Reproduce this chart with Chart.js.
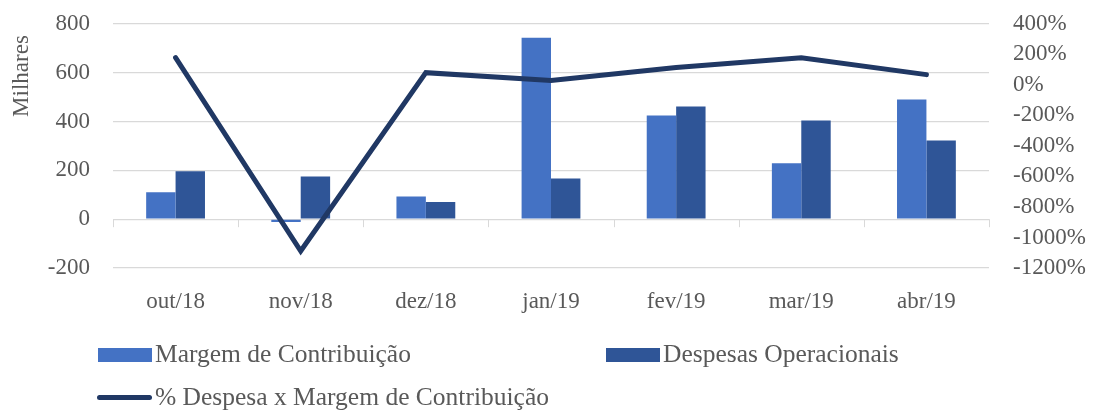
<!DOCTYPE html>
<html>
<head>
<meta charset="utf-8">
<script src="https://cdn.jsdelivr.net/npm/chart.js@4"></script>
<style>
  body { margin: 0; background: #fff; }
  #wrap { position: relative; width: 1093px; height: 411px; overflow: hidden; }
  #grafico { position: absolute; left: 0; top: -14px; }
  .leg { position: absolute; font-family: "Liberation Serif", serif; font-size: 25.5px; color: #595959; white-space: nowrap; line-height: 30px; }
  .box { position: absolute; }
</style>
</head>
<body>
<div id="wrap">
  <canvas id="grafico" width="1093" height="425"></canvas>
  <div class="box" style="left:98px;top:348px;width:54px;height:14px;background:#4472C4"></div>
  <div class="leg" style="left:155px;top:339px">Margem de Contribuição</div>
  <div class="box" style="left:606px;top:348px;width:54px;height:14px;background:#2F5597"></div>
  <div class="leg" style="left:663px;top:339px">Despesas Operacionais</div>
  <div class="box" style="left:97px;top:395px;width:55px;height:5px;border-radius:3px;background:#203864"></div>
  <div class="leg" style="left:155px;top:382px">% Despesa x Margem de Contribuição</div>
</div>
<script>
const meses = ['out/18', 'nov/18', 'dez/18', 'jan/19', 'fev/19', 'mar/19', 'abr/19'];
const margem = [110, -12, 93, 743, 424, 229, 490];
const despesas = [196, 175, 70, 167, 461, 404, 322];
const percentual = [178, -1089, 80, 28, 113, 178, 67];

const cinza = '#595959';
const fonte = { family: 'Liberation Serif', size: 23 };

// titulo do eixo e marcas do eixo x no zero
const extras = {
    id: 'extras',
    afterDraw(chart) {
        const c = chart.ctx;
        const x = chart.scales.x;
        const y0 = chart.scales.y.getPixelForValue(0);
        c.save();
        c.strokeStyle = '#D9D9D9';
        c.lineWidth = 1;
        for (let i = 0; i <= meses.length; i++) {
            const px = Math.round(x.left + i * (x.width / meses.length)) + 0.5;
            c.beginPath();
            c.moveTo(px, y0);
            c.lineTo(px, y0 + 8);
            c.stroke();
        }
        c.fillStyle = cinza;
        c.font = '23px "Liberation Serif"';
        c.translate(22, 90);
        c.rotate(-Math.PI / 2);
        c.textAlign = 'center';
        c.textBaseline = 'middle';
        c.fillText('Milhares', 0, 0);
        c.restore();
    }
};

new Chart(document.getElementById('grafico'), {
    type: 'bar',
    data: {
        labels: meses,
        datasets: [
            {
                type: 'line',
                label: '% Despesa x Margem de Contribuição',
                data: percentual,
                yAxisID: 'y1',
                borderColor: '#203864',
                borderWidth: 5,
                pointRadius: 0,
                tension: 0,
                borderCapStyle: 'round',
                order: 0
            },
            {
                label: 'Margem de Contribuição',
                data: margem,
                backgroundColor: '#4472C4',
                yAxisID: 'y',
                barPercentage: 1,
                categoryPercentage: 0.47,
                order: 1
            },
            {
                label: 'Despesas Operacionais',
                data: despesas,
                backgroundColor: '#2F5597',
                yAxisID: 'y',
                barPercentage: 1,
                categoryPercentage: 0.47,
                order: 1
            }
        ]
    },
    options: {
        responsive: false,
        animation: false,
        layout: { padding: { top: -4, left: 0, right: 0, bottom: 0 } },
        plugins: { legend: { display: false }, tooltip: { enabled: false } },
        scales: {
            x: {
                grid: { display: false },
                border: { display: false },
                ticks: { color: cinza, font: fonte, padding: 12, maxRotation: 0 },
                afterFit: s => { s.height = 143; }
            },
            y: {
                position: 'left',
                min: -200,
                max: 800,
                ticks: { stepSize: 200, color: cinza, font: fonte, padding: 23 },
                grid: { color: '#D9D9D9', lineWidth: 1.3, drawTicks: false },
                border: { display: false },
                afterFit: s => { s.width = 113; }
            },
            y1: {
                position: 'right',
                min: -1200,
                max: 400,
                ticks: { stepSize: 200, autoSkip: false, color: cinza, font: fonte, padding: 24, callback: v => v + '%' },
                grid: { display: false, drawTicks: false },
                border: { display: false },
                afterFit: s => { s.width = 104; }
            }
        }
    },
    plugins: [extras]
});
</script>
</body>
</html>
